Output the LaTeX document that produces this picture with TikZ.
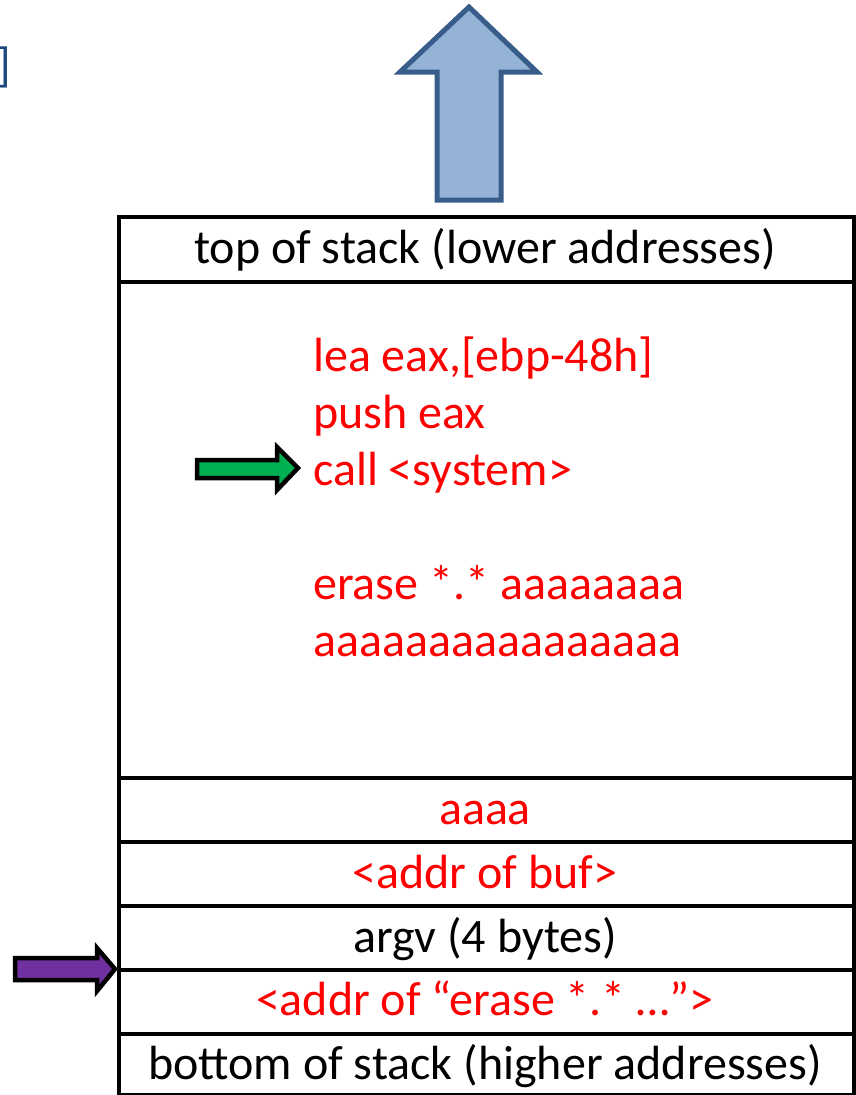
\documentclass[tikz,border=0pt]{standalone}
\usepackage{fontspec}
\setmainfont{Carlito}
\definecolor{arrowfill}{RGB}{149,179,215}
\definecolor{arrowline}{RGB}{56,93,138}
\definecolor{bracketblue}{RGB}{31,73,125}
\definecolor{greenfill}{RGB}{0,176,80}
\definecolor{purplefill}{RGB}{112,48,160}
\begin{document}
\begin{tikzpicture}[x=1pt,y=-1pt]
\tikzset{
  cell/.style={draw=black, line width=4pt, minimum width=735pt, inner sep=0pt, anchor=north west},
  stacktext/.style={font=\fontsize{48}{57}\selectfont, anchor=base, inner sep=0pt},
  redtext/.style={stacktext, text=red},
  codeline/.style={redtext, anchor=base west},
  blockarrow/.style={line width=4.5pt, line join=miter, draw=black},
}
\useasboundingbox (0,0) rectangle (856,1095);

% closing bracket at the left edge
\node[anchor=base east, text=bracketblue, font=\fontsize{48}{57}\selectfont, inner sep=0pt] (brk) at (11,81) {]};

% big upward arrow above the stack
\draw[line width=5pt, line join=miter, draw=arrowline, fill=arrowfill]
  (437,200) -- (437,72) -- (400,72) -- (469,7) -- (537,72) -- (501,72) -- (501,200) -- cycle;

% stack cells
\node[cell, minimum height=65pt] (top) at (117,215) {};
\node[cell, minimum height=496pt] (buf) at (117,280) {};
\node[cell, minimum height=64pt] (fill) at (117,776) {};
\node[cell, minimum height=64pt] (ret) at (117,840) {};
\node[cell, minimum height=64pt] (argv) at (117,904) {};
\node[cell, minimum height=64pt] (strptr) at (117,968) {};
\node[cell, minimum height=61pt] (bottom) at (117,1032) {};

% cell labels
\node[stacktext] (toplbl) at (485,263) {top of stack (lower addresses)};
\node[redtext] (filllbl) at (485,824) {aaaa};
\node[redtext] (retlbl) at (485,888) {<addr of buf>};
\node[stacktext] (argvlbl) at (485,952) {argv (4 bytes)};
\node[redtext] (strlbl) at (485,1015) {<addr of “erase *.* …”>};
\node[stacktext] (botlbl) at (485,1079) {bottom of stack (higher addresses)};

% injected code and string in the buffer
\node[codeline] (code1) at (313,371) {lea eax,[ebp-48h]};
\node[codeline] (code2) at (313,428) {push eax};
\node[codeline] (code3) at (313,485) {call <system>};
\node[codeline] (code4) at (313,599) {erase *.* aaaaaaaa};
\node[codeline] (code5) at (313,656) {aaaaaaaaaaaaaaaa};

% green pointer to the call instruction
\draw[blockarrow, fill=greenfill]
  (197,460) -- (277,460) -- (277,447) -- (298,468) -- (277,490) -- (277,478) -- (197,478) -- cycle;

% purple pointer to the string address slot
\draw[blockarrow, fill=purplefill]
  (15,958) -- (97,958) -- (97,948) -- (115,969) -- (97,991) -- (97,980) -- (15,980) -- cycle;
\end{tikzpicture}
\end{document}
